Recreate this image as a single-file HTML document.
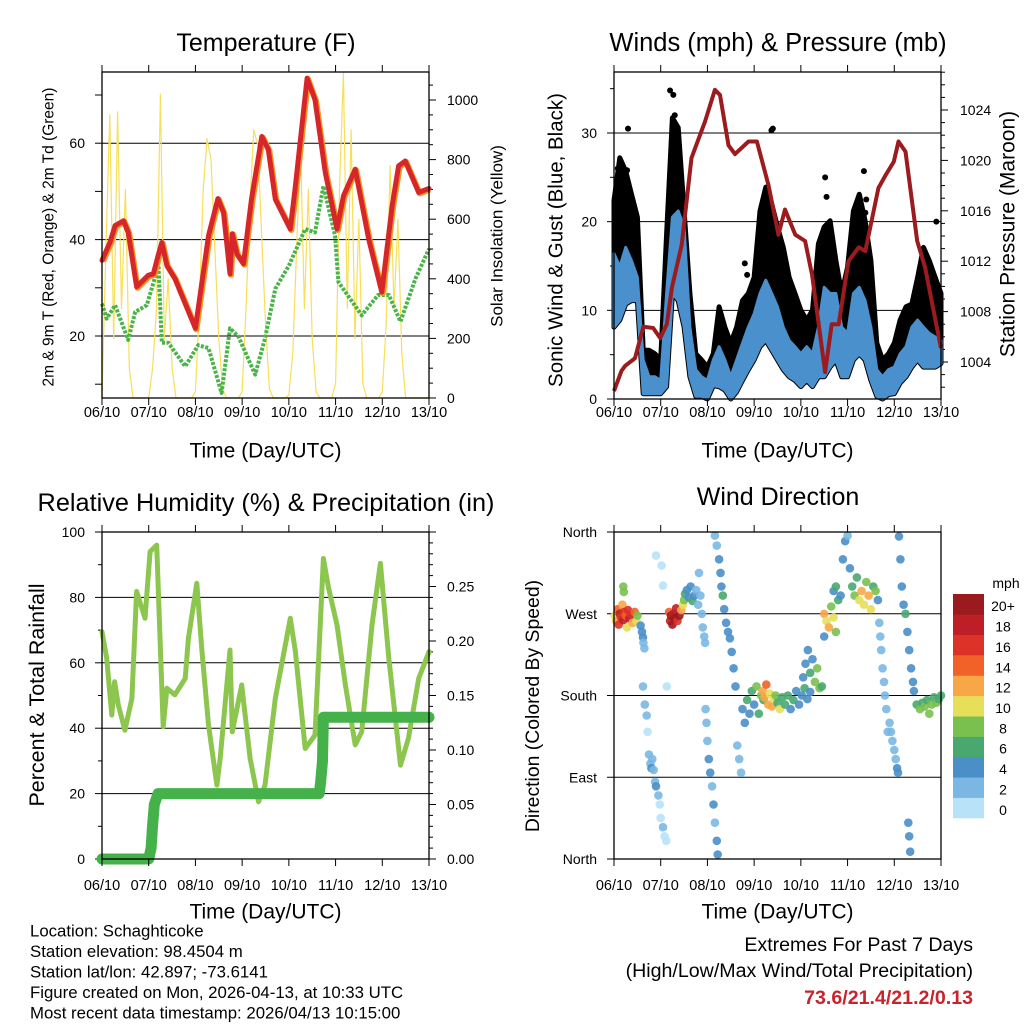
<!DOCTYPE html>
<html><head><meta charset="utf-8">
<style>
html,body{margin:0;padding:0;background:#fff;}
svg{display:block;font-family:"Liberation Sans",Arial,sans-serif;}
</style></head>
<body>
<svg id="chart" width="1024" height="1024" viewBox="0 0 1024 1024" xmlns="http://www.w3.org/2000/svg">
<rect x="0" y="0" width="1024" height="1024" fill="#fff"/>
</svg>
<script>
// ---------- data ----------
const dayLabels = ["06/10","07/10","08/10","09/10","10/10","11/10","12/10","13/10"];
// temperature (F)
const tempDays = [0,0.17,0.28,0.46,0.56,0.74,0.99,1.1,1.2,1.28,1.39,1.56,2.0,2.28,2.48,2.6,2.74,2.79,2.89,3.03,3.2,3.42,3.56,3.71,4.03,4.14,4.39,4.56,4.78,5.03,5.17,5.42,5.71,5.99,6.21,6.35,6.49,6.78,7.0];
const tempVals = [35.7,39.4,42.9,43.9,41.5,30.2,32.6,32.9,36.7,39.4,34.6,31.9,21.6,40.8,48.5,45.6,32.9,41.2,37,35,48.4,61.4,58.7,48.4,42.2,51.1,73.5,69,53.9,42.2,49.1,54.6,40.1,29.1,47,55.3,56.3,49.8,50.6];
const dewDays = [0,0.1,0.28,0.56,0.71,0.96,1.21,1.28,1.42,1.78,2.06,2.28,2.56,2.74,2.92,3.28,3.49,3.71,4.0,4.35,4.56,4.74,4.99,5.06,5.56,5.91,6.14,6.39,6.71,7.0];
const dewVals = [26.7,23.6,26.4,19.2,25,26.4,34.6,18.6,18.6,13.7,18.1,17.5,8.2,21.6,19.9,12,19.5,29.8,34.6,42.2,41.5,51.1,40.8,31.2,24.3,28.5,28.5,23,31.9,38.1];
// solar insolation, 2-hour steps
const solarVals = [
0,500,950,200,960,300,700,100,0,0,0,0,
0,100,300,1020,200,400,100,0,0,0,0,0,
20,300,700,870,800,500,200,30,0,0,0,0,
20,300,650,900,850,550,250,30,0,0,0,0,
10,150,500,850,300,700,200,20,0,0,0,0,
50,700,1090,300,900,200,600,50,0,0,0,0,
20,250,780,300,600,150,0,0,0,0,0,0,0];
// winds (mph), 3-hour steps
const gustTop = [22.4,27.2,25.7,23.1,20.5,5.5,5.5,5.1,4.4,18.6,31.7,30.6,21.2,11.9,5.1,4.4,3.6,5.1,10.4,8.1,6.3,8.1,11.1,11.9,13.7,21.2,23.9,22.0,19.4,17.1,13.7,11.9,10.0,8.9,10.0,17.5,19.4,20.1,15.6,11.9,14.9,21.2,23.1,20.1,15.6,6.3,4.4,5.1,6.3,8.9,10.4,10.7,13.7,17.1,15.6,13.7,11.9];
const windTop = [16.4,14.9,17.1,15.6,13.7,4.4,2.5,2.5,2.1,11.9,20.5,21.2,19.4,8.1,3.3,2.5,2.1,4.4,5.9,4.4,2.5,4.4,6.3,8.1,9.6,11.9,13.4,11.9,10.4,8.1,6.6,5.9,5.1,5.9,5.1,8.1,12.6,11.9,11.9,8.1,7.4,11.9,12.6,11.1,8.1,3.3,2.5,3.3,3.6,5.1,5.9,8.1,8.9,8.1,7.4,7.0,6.6];
const windBot = [8.1,8.9,10.7,11.1,11.1,0.6,0.6,0.6,0.6,1.4,11.9,11.1,8.1,2.5,0.3,0.3,0,1.5,1.4,1,0,0.8,2.1,3.3,4.4,5.9,6.6,5.5,4.4,3.3,2.5,2.1,1.4,2.1,1.4,2.5,2.5,3.6,4.4,2.5,2.5,4.4,5.1,4.4,2.1,0.3,0,0.5,0.6,1.8,2.5,3.6,4.4,3.6,3.6,3.6,4.0];
const gustPeakDays = [0.08,0.16,0.28,0.3,1.2,1.27,1.3,1.35,2.8,2.85,3.37,3.4,4.52,4.55,5.35,5.38,5.4,6.9];
const gustPeakVals = [26,21,25.8,30.5,34.8,34.3,32,29.5,15.3,14,30.3,30.5,25,22.8,25.7,21,22.5,20];
const presDays = [0,0.16,0.24,0.45,0.63,0.84,0.99,1.13,1.24,1.45,1.66,1.95,2.16,2.27,2.45,2.59,2.88,3.06,3.31,3.52,3.66,3.88,4.09,4.24,4.52,4.66,4.81,5.02,5.24,5.38,5.66,5.81,5.99,6.09,6.24,6.49,6.66,7.0];
const presVals = [1001.7,1003.3,1003.7,1004.3,1006.8,1006.7,1005.9,1007,1009.9,1013.3,1020.2,1023.1,1025.6,1025.2,1021.2,1020.5,1021.5,1021.5,1018,1014.1,1016.1,1014.1,1013.6,1010.9,1003.2,1007,1007,1012,1013.1,1012.8,1017.8,1018.8,1019.9,1021.5,1020.7,1013.6,1011.5,1005.1];
// relative humidity / precipitation
const rhDays = [0,0.1,0.21,0.27,0.35,0.49,0.64,0.74,0.92,1.03,1.17,1.31,1.39,1.56,1.78,1.85,2.03,2.14,2.28,2.46,2.53,2.74,2.79,2.99,3.17,3.35,3.49,3.71,4.03,4.14,4.35,4.56,4.74,4.85,5.03,5.21,5.42,5.56,5.78,5.96,6.14,6.39,6.56,6.78,7.0];
const rhVals = [69.5,61.4,44,54.2,47.1,39.4,49.1,81.8,73.6,94,96,40.5,52.2,50.2,55.2,67.5,84.3,63.4,41,22.6,30.8,63.9,38.9,53.2,30.8,17.5,22.6,49.1,73.6,63.4,33.8,37.9,91.9,82.8,71.6,53.2,34.9,38.9,71.6,90.4,61.4,28.7,36.9,55.2,63.4];
const precipDays = [0,1.0,1.05,1.08,1.12,1.2,4.65,4.68,4.72,4.74,7.0];
const precipVals = [0,0,0.01,0.03,0.05,0.06,0.06,0.07,0.09,0.13,0.13];
// wind direction
const dirDays = [
0.02,0.05,0.08,0.1,0.12,0.15,0.18,0.2,0.22,0.25,0.28,0.3,0.33,0.36,0.4,0.44,0.48,0.5,0.2,0.21,
0.57,0.6,0.62,0.63,0.65,
0.66,0.7,0.72,0.75,0.78,0.8,0.82,0.85,0.88,0.9,0.95,0.98,1.0,1.05,1.08,1.12,0.9,1.02,1.05,1.13,0.62,
1.18,1.2,1.22,1.25,1.27,1.3,1.33,1.36,1.4,1.44,1.48,1.5,
1.52,1.56,1.6,1.64,1.68,1.72,1.76,1.8,
1.82,1.85,1.88,1.9,1.93,1.95,
1.96,1.98,2.0,2.03,2.06,2.1,2.13,2.16,2.2,2.22,
2.16,2.2,2.25,2.28,2.3,2.33,2.36,2.4,2.44,2.48,
2.52,2.56,2.6,2.64,2.68,2.72,
2.75,2.8,2.85,2.9,2.95,3.0,3.05,3.1,3.15,3.2,
3.18,3.22,3.26,3.3,3.34,3.38,3.42,3.46,3.5,3.55,3.6,
3.66,3.72,3.78,3.84,3.9,3.96,4.02,4.08,4.14,4.2,
4.05,4.1,4.15,4.2,4.25,4.3,4.35,4.4,4.45,4.5,
4.5,4.55,4.6,4.65,4.7,4.75,
4.7,4.75,4.8,4.85,4.9,4.95,5.0,5.05,
5.1,5.15,5.2,5.25,5.3,5.35,5.4,5.45,5.5,5.55,5.6,5.65,
5.68,5.7,5.72,5.75,5.78,5.8,5.83,5.86,
5.9,5.93,5.96,6.0,6.03,6.06,6.08,
6.1,6.13,6.16,6.2,6.24,6.28,6.32,6.36,6.4,6.42,
6.3,6.32,6.34,
6.48,6.55,6.6,6.65,6.7,6.75,6.8,6.85,6.9,6.95,7.0];
const dirDegs = [
268,262,275,258,270,266,280,263,272,268,255,274,265,270,260,272,262,268,300,294,
257,250,244,238,232,
170,158,140,115,105,100,110,98,85,80,70,60,45,35,25,20,334,323,301,190,190,
272,262,268,258,270,265,276,262,268,274,280,285,
292,296,288,300,284,290,296,280,
315,290,270,255,245,238,
165,150,130,110,95,80,60,40,20,5,
356,345,330,315,300,290,275,260,250,243,
228,210,190,125,110,95,
165,150,175,160,185,170,190,160,180,175,
185,178,192,170,182,168,176,180,172,165,178,
170,180,165,175,185,170,180,188,176,184,
200,215,230,205,220,195,210,188,190,245,
270,262,255,278,266,250,
295,300,285,290,330,350,356,320,
300,290,310,285,295,280,305,290,275,300,295,285,
260,245,230,210,195,180,165,140,
150,140,130,120,110,100,95,
355,330,300,280,270,250,230,210,195,185,
40,25,8,
170,165,172,168,175,160,170,178,172,176,180];
const dirSpeeds = [
10,12,14,16,18,16,12,18,16,14,10,16,18,16,12,14,10,8,8,8,
4,4,4,2,2,
2,2,0,2,2,4,2,2,2,4,2,0,0,2,0,0,0,0,0,0,2,
14,18,20,20,18,20,18,16,20,12,10,8,
6,4,4,4,6,4,2,2,
2,2,2,2,2,2,
2,2,2,4,4,2,4,2,4,4,
2,2,4,4,4,6,4,4,4,4,
4,4,4,2,2,2,
4,4,6,4,6,4,8,6,8,6,
12,12,14,12,10,12,10,8,6,10,6,
6,6,4,6,4,4,4,6,4,4,
4,4,4,6,4,8,8,8,6,4,
12,10,12,8,10,8,
4,6,6,4,4,4,2,4,
6,8,6,10,12,10,8,12,10,6,8,4,
2,2,2,2,2,2,2,2,
2,2,2,2,2,4,4,
4,4,4,4,6,4,4,4,4,4,
4,4,4,
6,8,6,8,6,8,8,6,8,6,6];
const speedLabels = ["0","2","4","6","8","10","12","14","16","18","20+"];
const speedColors = ["#b8e2f8","#7ab8e3","#4a8fc8","#49a870","#7ac04f","#e7df5a","#f8a747","#f26128","#dd3228","#be1e25","#9b1a1d"];

// ---------- helpers ----------
const svg = document.getElementById('chart');
const NS = "http://www.w3.org/2000/svg";
function el(tag, attrs, parent){
  const e = document.createElementNS(NS, tag);
  for (const k in attrs) e.setAttribute(k, attrs[k]);
  (parent||svg).appendChild(e);
  return e;
}
function txt(s, x, y, size, anchor, parent, extra){
  const t = el('text', {x:x, y:y, 'font-size':size, 'text-anchor':anchor||'middle', 'dominant-baseline':'central', fill:'#000'}, parent);
  if (extra) for (const k in extra) t.setAttribute(k, extra[k]);
  t.textContent = s;
  return t;
}
function lin(d0,d1,r0,r1){ return v => r0 + (v-d0)/(d1-d0)*(r1-r0); }

function xAxisDays(g, x, y0, y1, labelY, titleY){
  for (let i=0;i<dayLabels.length;i++){
    const xx = x(i);
    const tk = el('line',{x1:xx,x2:xx,y1:y1,y2:y1+7,stroke:'#000','stroke-width':1},g);
    
    
    const tt = el('line',{x1:xx,x2:xx,y1:y0,y2:y0-7,stroke:'#000','stroke-width':1},g);
    
    
    const t = txt(dayLabels[i], xx, labelY, 14.5, 'middle', g);
    
    
  }
  const tl = txt('Time (Day/UTC)', (x(0)+x(7))/2, titleY, 21, 'middle', g);
  
  
}
function frame(g, x0,y0,x1,y1){
  const r = el('rect',{x:x0,y:y0,width:x1-x0,height:y1-y0,fill:'none',stroke:'#000','stroke-width':1.3},g);
  
  
}
function hgrid(g, x0, x1, yy){
  const l = el('line',{x1:x0,x2:x1,y1:yy,y2:yy,stroke:'#000','stroke-width':1},g);
  
  
}
function ytick(g, xx, yy, len){
  const l = el('line',{x1:xx,x2:xx+len,y1:yy,y2:yy,stroke:'#000','stroke-width':1},g);
  
  
}
function pathFrom(xs, ys, fx, fy){
  return xs.map((d,i)=>(i?'L':'M')+fx(d).toFixed(1)+','+fy(ys[i]).toFixed(1)).join('');
}
function rotText(s, x, y, size, g, name){
  const t = txt(s, x, y, size, 'middle', g, {transform:'rotate(-90 '+x+' '+y+')'});
  
  
}

// ---------- Panel 1: Temperature ----------
(function(){
  const g = el('g',{});
  
  
  const X0=102,X1=429,Y0=72,Y1=398;
  const x = lin(0,7,X0,X1);
  const y = lin(20,40,336,239.6);
  const ys = lin(0,1000,398,100);
  const tt = txt('Temperature (F)', 266, 43, 25, 'middle', g);
  
  
  [20,40,60].forEach(v=>hgrid(g,X0,X1,y(v)));
  [10,20,30,40,50,60,70].forEach(v=>{ const yy=y(v); if(yy<Y1&&yy>Y0) ytick(g,X0,yy,-7); });
  [20,40,60].forEach(v=>{ const t=txt(String(v),85,y(v),14,'end',g);   });
  for(let v=0;v<=1050;v+=50){ ytick(g,X1,ys(v), v%200===0?7:4); }
  [0,200,400,600,800,1000].forEach(v=>{ const t=txt(String(v),447,ys(v),14,'start',g);   });
  const sd = solarVals.map((v,i)=>i/12);
  const sp = el('path',{d:pathFrom(sd,solarVals,x,ys),fill:'none',stroke:'#f7df5a','stroke-width':1.2,'stroke-linejoin':'round'},g);
  
  
  const dp = el('path',{d:pathFrom(dewDays,dewVals,x,y),fill:'none',stroke:'#4ab34a','stroke-width':4,'stroke-dasharray':'3 1.5','stroke-linejoin':'round'},g);
  
  
  const op = el('path',{d:pathFrom(tempDays,tempVals,x,y),fill:'none',stroke:'#f7941d','stroke-width':6,'stroke-linejoin':'round',transform:'translate(1,1)'},g);
  
  
  const rp = el('path',{d:pathFrom(tempDays,tempVals,x,y),fill:'none',stroke:'#d7262a','stroke-width':5,'stroke-linejoin':'round','stroke-linecap':'round'},g);
  
  
  frame(g,X0,Y0,X1,Y1);
  xAxisDays(g,x,Y0,Y1,413,451);
  rotText('2m & 9m T (Red, Orange) & 2m Td (Green)', 49, 237, 15.5, g, 'y-axis-title');
  rotText('Solar Insolation (Yellow)', 497, 236, 17, g, 'y2-axis-title');
})();

// ---------- Panel 2: Winds & Pressure ----------
(function(){
  const g = el('g',{});
  
  
  const X0=614,X1=941,Y0=72,Y1=399;
  const x = lin(0,7,X0,X1);
  const y = lin(0,30,399,133);
  const yp = lin(1004,1024,362,110);
  const tt = txt('Winds (mph) & Pressure (mb)', 778, 43, 25.5, 'middle', g);
  
  
  [10,20,30].forEach(v=>hgrid(g,X0,X1,y(v)));
  for(let v=0;v<=35;v+=5) ytick(g,X0,y(v), v%10===0?-7:-4);
  [0,10,20,30].forEach(v=>{ const t=txt(String(v),597,y(v),14,'end',g);   });
  for(let v=1002;v<=1027;v+=1){ ytick(g,X1,yp(v), v%4===0?7:4); }
  [1004,1008,1012,1016,1020,1024].forEach(v=>{ const t=txt(String(v),960,yp(v),14,'start',g);   });
  const wd = gustTop.map((v,i)=>i/8);
  let d = wd.map((dd,i)=>(i?'L':'M')+x(dd).toFixed(1)+','+y(gustTop[i]).toFixed(1)).join('');
  for(let i=wd.length-1;i>=0;i--) d += 'L'+x(wd[i]).toFixed(1)+','+y(windBot[i]).toFixed(1);
  const gb = el('path',{d:d+'Z',fill:'#000',stroke:'#000','stroke-width':5,'stroke-linejoin':'round'},g);
  
  
  gustPeakDays.forEach((dd,i)=>{
    const c = el('circle',{cx:x(dd),cy:y(gustPeakVals[i]),r:3,fill:'#000'},g);
    
    
  });
  let d2 = wd.map((dd,i)=>(i?'L':'M')+x(dd).toFixed(1)+','+y(windTop[i]).toFixed(1)).join('');
  for(let i=wd.length-1;i>=0;i--) d2 += 'L'+x(wd[i]).toFixed(1)+','+y(windBot[i]).toFixed(1);
  const wb = el('path',{d:d2+'Z',fill:'#4a90cc',stroke:'#4a90cc','stroke-width':3,'stroke-linejoin':'round'},g);
  
  
  const pp = el('path',{d:pathFrom(presDays,presVals,x,yp),fill:'none',stroke:'#9b1b1e','stroke-width':4,'stroke-linejoin':'round'},g);
  
  
  frame(g,X0,Y0,X1,Y1);
  xAxisDays(g,x,Y0,Y1,413,451);
  rotText('Sonic Wind & Gust (Blue, Black)', 556, 240, 20.5, g, 'y-axis-title');
  rotText('Station Pressure (Maroon)', 1008, 234, 21, g, 'y2-axis-title');
})();

// ---------- Panel 3: RH & Precip ----------
(function(){
  const g = el('g',{});
  
  
  const X0=102,X1=429,Y0=532,Y1=859;
  const x = lin(0,7,X0,X1);
  const y = lin(0,100,859,532);
  const yr = lin(0,0.30,859,532);
  const tt = txt('Relative Humidity (%) & Precipitation (in)', 266, 503, 25.3, 'middle', g);
  
  
  [20,40,60,80].forEach(v=>hgrid(g,X0,X1,y(v)));
  for(let v=0;v<=100;v+=10) ytick(g,X0,y(v), v%20===0?-7:-4);
  [0,20,40,60,80,100].forEach(v=>{ const t=txt(String(v),85,y(v),14,'end',g);   });
  for(let v=0;v<=0.30001;v+=0.01){ ytick(g,X1,yr(v), Math.round(v*100)%5===0?7:4); }
  ["0.00","0.05","0.10","0.15","0.20","0.25"].forEach(s=>{ const t=txt(s,447,yr(parseFloat(s)),14,'start',g);   });
  const rp = el('path',{d:pathFrom(rhDays,rhVals,x,y),fill:'none',stroke:'#8dc64f','stroke-width':5,'stroke-linejoin':'round','stroke-linecap':'round'},g);
  
  
  const pr = el('path',{d:pathFrom(precipDays,precipVals,x,yr),fill:'none',stroke:'#45b14a','stroke-width':11,'stroke-linejoin':'round','stroke-linecap':'round'},g);
  
  
  frame(g,X0,Y0,X1,Y1);
  xAxisDays(g,x,Y0,Y1,886,912);
  rotText('Percent & Total Rainfall', 37, 695, 21.5, g, 'y-axis-title');
})();

// ---------- Panel 4: Wind direction ----------
(function(){
  const g = el('g',{});
  
  
  const X0=614,X1=941,Y0=532,Y1=859;
  const x = lin(0,7,X0,X1);
  const y = lin(0,360,859,532);
  const tt = txt('Wind Direction', 778, 497, 25, 'middle', g);
  
  
  [90,180,270].forEach(v=>hgrid(g,X0,X1,y(v)));
  [0,90,180,270,360].forEach(v=>ytick(g,X0,y(v),-7));
  const names=["North","East","South","West","North"];
  [0,90,180,270,360].forEach((v,i)=>{ const t=txt(names[i],597,y(v),14,'end',g);   });
  dirDays.forEach((dd,i)=>{
    const ci = Math.min(10, Math.floor(dirSpeeds[i]/2));
    const c = el('circle',{cx:x(dd).toFixed(1),cy:y(dirDegs[i]).toFixed(1),r:4.3,fill:speedColors[ci],'fill-opacity':0.9},g);
    
    
  });
  frame(g,X0,Y0,X1,Y1);
  xAxisDays(g,x,Y0,Y1,886,912);
  rotText('Direction (Colored By Speed)', 533, 706, 19.4, g, 'y-axis-title');
  const cb = el('g',{},g);
  
  
  const cbTop=594, cbH=224/11;
  for(let i=0;i<11;i++){
    const yy = cbTop + (10-i)*cbH;
    const r = el('rect',{x:953,y:yy,width:31,height:cbH+0.3,fill:speedColors[i]},cb);
    
    
    const t = txt(speedLabels[i], 1003, yy+cbH/2+2, 14, 'middle', cb);
    
    
  }
  const mt = txt('mph', 1006, 583, 14, 'middle', cb);
  
  
})();

// ---------- text blocks ----------
const info = ["Location: Schaghticoke","Station elevation: 98.4504 m","Station lat/lon: 42.897; -73.6141","Figure created on Mon, 2026-04-13, at 10:33 UTC","Most recent data timestamp: 2026/04/13 10:15:00"];
info.forEach((s,i)=>{
  const t = txt(s, 30, 931+i*20.5, 16.8, 'start');
  
  
});
const e1 = txt('Extremes For Past 7 Days', 973, 945, 19.6, 'end');


const e2 = txt('(High/Low/Max Wind/Total Precipitation)', 973, 971, 19.6, 'end');


const e3 = txt('73.6/21.4/21.2/0.13', 973, 998, 19.6, 'end', null, {fill:'#c8242b','font-weight':'bold'});


</script>
</body></html>
